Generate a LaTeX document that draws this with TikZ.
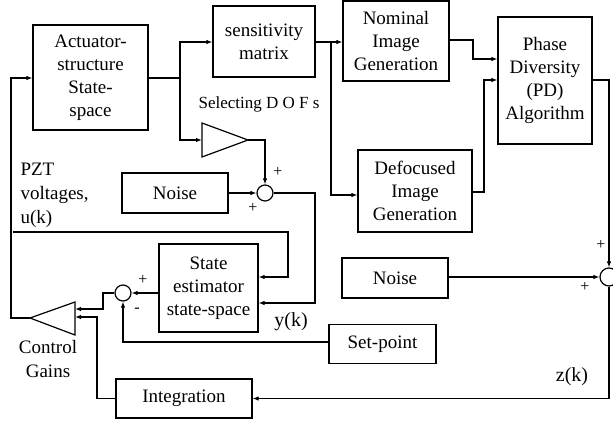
\documentclass[tikz,border=0pt]{standalone}
\usepackage{fontspec}
\setmainfont{Liberation Serif}
\usetikzlibrary{arrows.meta}
\begin{document}
\begin{tikzpicture}[x=1pt,y=-1pt,
  line width=1.1pt,
  >={Latex[length=6pt,width=4.5pt]},
  blk/.style={draw, line width=1.2pt, align=center, inner sep=0pt,
    font=\fontsize{19}{23}\selectfont},
  sumj/.style={draw, line width=1.2pt, circle, inner sep=0pt, minimum size=16pt},
  lbl/.style={font=\fontsize{19}{24}\selectfont, inner sep=0pt},
  sgn/.style={font=\fontsize{16}{16}\selectfont, inner sep=0pt},
  conn/.style={->}]
\useasboundingbox (0,0) rectangle (613,423);
% blocks
\node[blk, minimum width=115pt, minimum height=105pt] (act) at (90.5,77.5) {Actuator-\\structure\\State-\\space};
\node[blk, minimum width=102pt, minimum height=71pt] (sens) at (264,41.5) {sensitivity\\matrix};
\node[blk, minimum width=106pt, minimum height=80pt] (nom) at (396,41) {Nominal\\Image\\Generation};
\node[blk, minimum width=94pt, minimum height=127pt] (pd) at (545,80.5) {Phase\\Diversity\\(PD)\\Algorithm};
\node[blk, minimum width=114pt, minimum height=82pt] (def) at (415,191) {Defocused\\Image\\Generation};
\node[blk, minimum width=106pt, minimum height=40pt] (noise1) at (175,193) {Noise};
\node[blk, minimum width=99pt, minimum height=88pt] (est) at (208.5,288) {State\\estimator\\state-space};
\node[blk, minimum width=106pt, minimum height=40pt] (noise2) at (395,278) {Noise};
\node[blk, minimum width=107pt, minimum height=39pt] (setp) at (382.5,344) {Set-point};
\node[blk, minimum width=136pt, minimum height=39pt] (integ) at (184,398.5) {Integration};
% summing junctions
\node[sumj] (s1) at (265,193) {};
\node[sumj] (s2) at (123,293) {};
\node[sumj, minimum size=18pt] (s3) at (609,277) {};
% amplifier (Selecting DOFs)
\coordinate (a1in) at (202,140);
\coordinate (a1out) at (248,140);
\draw[line width=1.2pt] (202,123) -- (a1out) -- (202,157) -- cycle;
% control gains
\coordinate (cgtip) at (30,318);
\coordinate (cgin1) at (75,309);
\coordinate (cgin2) at (75,317);
\draw[line width=1.2pt] (75,302) -- (cgtip) -- (75,335) -- cycle;
% branch points
\coordinate (b1) at (180,78);
\coordinate (b2) at (331,42);
\coordinate (ustart) at (13,232);
% connectors
\draw (act.east |- b1) -- (b1);
\draw[conn] (b1) |- (sens.west |- 0,42);
\draw[conn] (b1) |- (a1in);
\draw[conn] (a1out) -| (s1.north);
\draw[conn] (noise1.east) -- (s1.west);
\draw[conn] (s1.east) -| (315,303) -- (est.east |- 0,303);
\draw[conn] (ustart) -| (288,277) -- (est.east |- 0,277);
\draw[conn] (est.west |- s2) -- (s2.east);
\draw[conn] (s2.west) -| (103,309) -- (cgin1);
\draw[conn] (setp.west |- 0,342) -| (s2.south);
\draw[conn] (integ.west) -| (97,317) -- (cgin2);
\draw[conn] (cgtip) -| (11,78) -- (act.west |- 0,78);
\draw[conn] (sens.east |- b2) -- (nom.west |- b2);
\draw[conn] (b2) |- (def.west |- 0,195);
\draw[conn] (nom.east |- 0,40) -| (473,59) -- (pd.west |- 0,59);
\draw[conn] (def.east |- 0,192) -| (484,80) -- (pd.west |- 0,80);
\draw[conn] (pd.east |- 0,80) -| (s3.north);
\draw[conn] (noise2.east |- s3) -- (s3.west);
\draw[conn] (s3.south) |- (integ.east);
% labels
\node[font=\fontsize{17}{17}\selectfont, inner sep=0pt, anchor=base west] (seldof) at (198,108) {Selecting D O F s};
\node[sgn] (p1a) at (278,172) {+};
\node[sgn] (p1b) at (253,208) {+};
\node[lbl, align=left, anchor=north west] (pzt) at (20,163) {PZT\\voltages,\\u(k)};
\node[sgn] (p2a) at (143,280) {+};
\node[sgn] (p2b) at (137,310) {-};
\node[font=\fontsize{20}{20}\selectfont, inner sep=0pt] (yk) at (291,322) {y(k)};
\node[lbl, align=center] (cg) at (48,359) {Control\\Gains};
\node[sgn] (p3a) at (601,245) {+};
\node[sgn] (p3b) at (585,287) {+};
\node[font=\fontsize{20}{20}\selectfont, inner sep=0pt] (zk) at (572,377) {z(k)};
\end{tikzpicture}
\end{document}
